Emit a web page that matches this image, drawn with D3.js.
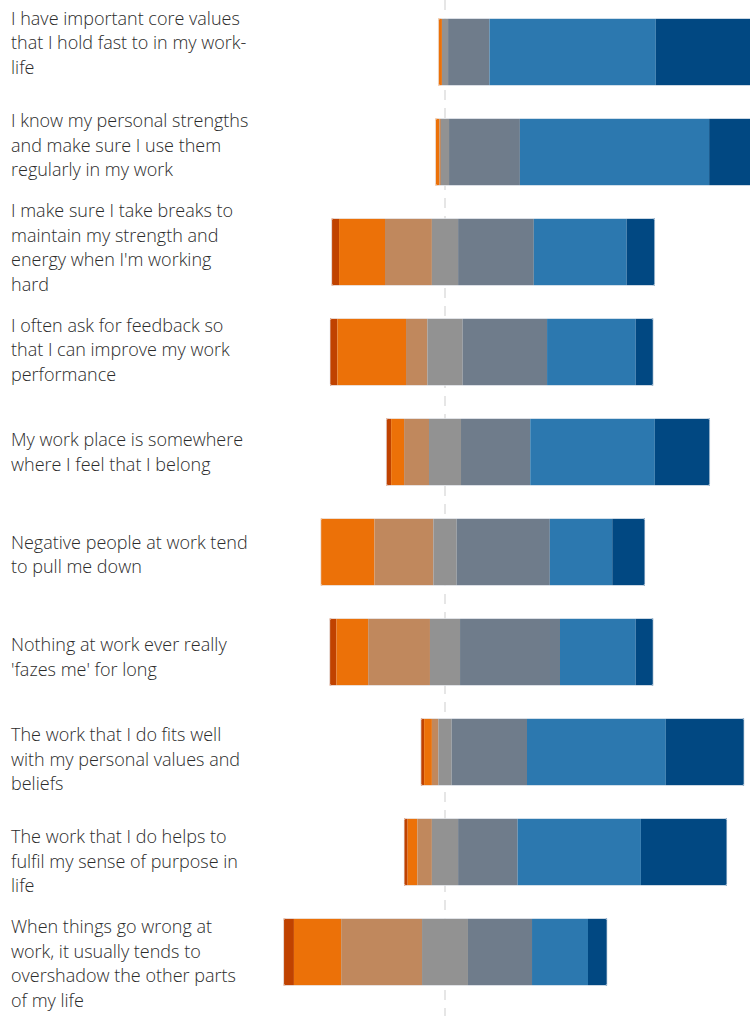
<!DOCTYPE html>
<html>
<head>
<meta charset="utf-8">
<script src="https://cdn.jsdelivr.net/npm/d3@7"></script>
<style>
  body { margin: 0; background: #fff; }
  svg { display: block; }
  .label { font-family: "Open Sans", sans-serif; font-weight: 300; font-size: 18px; fill: #2b2b2b; }
</style>
</head>
<body>
<script>
// Survey statements (rows, top to bottom)
const statements = [
  "I have important core values that I hold fast to in my work-life",
  "I know my personal strengths and make sure I use them regularly in my work",
  "I make sure I take breaks to maintain my strength and energy when I'm working hard",
  "I often ask for feedback so that I can improve my work performance",
  "My work place is somewhere where I feel that I belong",
  "Negative people at work tend to pull me down",
  "Nothing at work ever really 'fazes me' for long",
  "The work that I do fits well with my personal values and beliefs",
  "The work that I do helps to fulfil my sense of purpose in life",
  "When things go wrong at work, it usually tends to overshadow the other parts of my life"
];

// Manually broken label lines, as in the picture
const labelLines = [
  ["I have important core values", "that I hold fast to in my work-", "life"],
  ["I know my personal strengths", "and make sure I use them", "regularly in my work"],
  ["I make sure I take breaks to", "maintain my strength and", "energy when I'm working", "hard"],
  ["I often ask for feedback so", "that I can improve my work", "performance"],
  ["My work place is somewhere", "where I feel that I belong"],
  ["Negative people at work tend", "to pull me down"],
  ["Nothing at work ever really", "'fazes me' for long"],
  ["The work that I do fits well", "with my personal values and", "beliefs"],
  ["The work that I do helps to", "fulfil my sense of purpose in", "life"],
  ["When things go wrong at", "work, it usually tends to", "overshadow the other parts", "of my life"]
];

// Response categories (disagree -> agree)
const responses = ["Strongly disagree", "Disagree", "Slightly disagree", "Neutral", "Slightly agree", "Agree", "Strongly agree"];

// Percent of answers per response, one array per category
const stronglyDisagree = [0.0, 0.0, 2.3, 2.3, 1.5, 0.0, 2.1, 1.0, 1.1, 3.2];
const disagree         = [1.1, 1.2, 14.2, 21.2, 4.0, 16.6, 9.8, 2.4, 3.0, 14.6];
const slightlyDisagree = [0.0, 0.5, 14.5, 6.6, 7.7, 18.2, 19.1, 2.0, 4.5, 25.0];
const neutral          = [1.9, 2.5, 8.1, 10.9, 9.9, 7.2, 9.3, 4.1, 8.1, 14.2];
const slightlyAgree    = [12.8, 21.9, 23.4, 26.1, 21.4, 28.8, 30.9, 23.3, 18.4, 19.8];
const agree            = [51.4, 58.5, 28.7, 27.4, 38.5, 19.3, 23.4, 42.9, 38.1, 17.3];
const stronglyAgree    = [32.8, 15.4, 8.7, 5.4, 17.0, 10.1, 5.4, 24.2, 26.6, 5.9];

const colors = ["#c04200", "#ec7108", "#c0885d", "#929292", "#6f7c8b", "#2c78af", "#014882"];

const width = 750, height = 1016;

const series = [stronglyDisagree, disagree, slightlyDisagree, neutral, slightlyAgree, agree, stronglyAgree];

// Build rows: each segment starts left of zero by (disagree total + half neutral)
const rows = statements.map((s, i) => {
  const vals = series.map(arr => arr[i]);
  let start = -(vals[0] + vals[1] + vals[2] + vals[3] / 2);
  const segs = vals.map((v, k) => {
    const seg = { key: responses[k], k, x0: start, x1: start + v };
    start += v;
    return seg;
  });
  return { statement: s, i, segs };
});

const x = d3.scaleLinear()
  .domain([-50, 100])
  .range([445 - 161.75, 445 + 323.5]);

const y = d3.scaleBand()
  .domain(d3.range(statements.length))
  .range([2, 1002])
  .paddingInner(0.33)
  .paddingOuter(0.165);

// labels sit on their own, slightly wider, band
const yLabel = d3.scaleBand()
  .domain(d3.range(statements.length))
  .range([-8, 1015]);

const svg = d3.select("body").append("svg")
  .attr("width", width)
  .attr("height", height);

// dashed zero line
svg.append("line")
  .attr("x1", x(0)).attr("x2", x(0))
  .attr("y1", 0).attr("y2", height)
  .attr("stroke", "#e6e6e6")
  .attr("stroke-width", 2)
  .attr("stroke-dasharray", "10,8");

const rowG = svg.selectAll("g.row")
  .data(rows)
  .enter()
  .append("g")
  .attr("class", "row")
  .attr("transform", d => `translate(0,${y(d.i)})`);

rowG.selectAll("rect")
  .data(d => d.segs.filter(s => s.x1 - s.x0 > 0))
  .enter()
  .append("rect")
  .attr("x", d => x(d.x0))
  .attr("width", d => x(d.x1) - x(d.x0))
  .attr("height", y.bandwidth())
  .attr("fill", d => colors[d.k]);

// soft edge like the original
rowG.append("rect")
  .attr("x", d => x(d.segs[0].x0))
  .attr("width", d => x(d.segs[6].x1) - x(d.segs[0].x0))
  .attr("height", y.bandwidth())
  .attr("rx", 2)
  .attr("fill", "none")
  .attr("stroke", "#e9edf2")
  .attr("stroke-opacity", 0.7)
  .attr("stroke-width", 1);

// labels
const lineH = 24.5;
svg.selectAll("text.label")
  .data(labelLines)
  .enter()
  .append("text")
  .attr("class", "label")
  .each(function(lines, i) {
    const cy = yLabel(i) + yLabel.bandwidth() / 2;
    const top = cy - (lines.length - 1) * lineH / 2;
    d3.select(this).selectAll("tspan")
      .data(lines)
      .enter()
      .append("tspan")
      .attr("x", 11)
      .attr("y", (l, j) => top + j * lineH)
      .attr("dy", "0.35em")
      .text(l => l);
  });
</script>
</body>
</html>
